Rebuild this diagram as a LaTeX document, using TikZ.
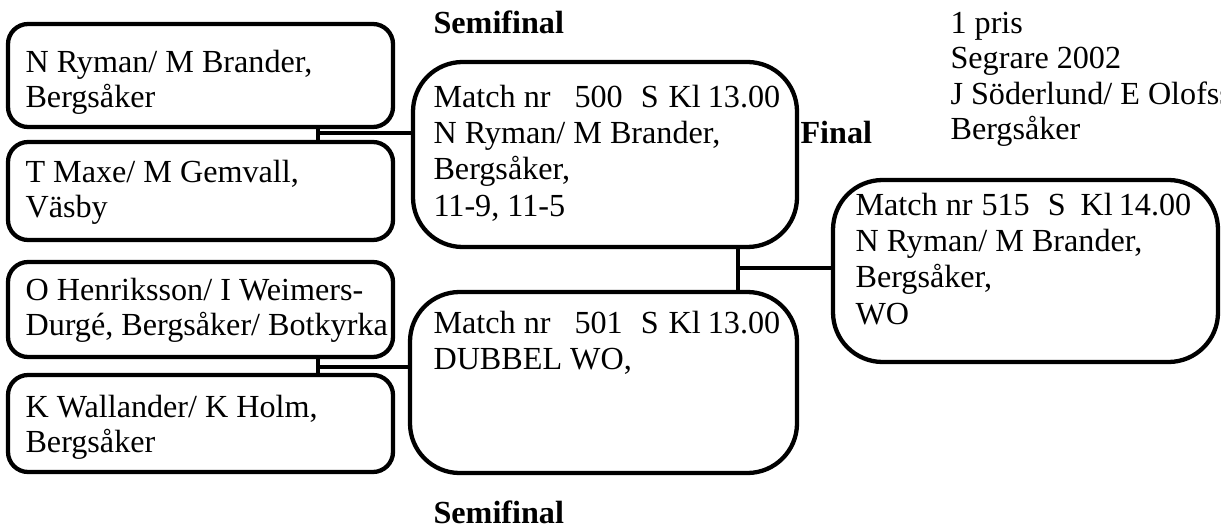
\documentclass[tikz,border=0pt]{standalone}
\usepackage{fontspec}
\setmainfont{Liberation Serif}
\usetikzlibrary{fit}
\newdimen\pxu \pxu=0.3731pt
\begin{document}
\begin{tikzpicture}[x=0.3731pt, y=-0.3731pt,
  box/.style={draw, line width=1.6pt, rounded corners=7.5pt, inner sep=0pt},
  mbox/.style={box, rounded corners=18.5pt},
  conn/.style={line width=1.6pt},
  txt/.style={anchor=north west, inner sep=0pt, align=left, font=\fontsize{12}{13.2}\selectfont},
  mtxt/.style={txt, font=\fontsize{12}{13.5}\selectfont},
  lbl/.style={txt, font=\fontsize{12}{13.2}\selectfont\bfseries}]
\useasboundingbox (0,0) rectangle (1221,531);

% player boxes
\node[box, fit={(8,24) (393,127)}] (p1) {};
\node[box, fit={(8,142) (393,240)}] (p2) {};
\node[box, fit={(8,262) (393,357)}] (p3) {};
\node[box, fit={(8,375) (393,472)}] (p4) {};
\node[txt] (tp1) at (25,47.2) {\strut N Ryman/ M Brander,\\Bergsåker};
\node[txt] (tp2) at (25,157.2) {\strut T Maxe/ M Gemvall,\\Väsby};
\node[txt] (tp3) at (25,275.2) {\strut O Henriksson/ I Weimers-\\Durgé, Bergsåker/ Botkyrka};
\node[txt] (tp4) at (25,392.2) {\strut K Wallander/ K Holm,\\Bergsåker};

% match boxes
\node[mbox, fit={(413,62) (797,247)}] (m500) {};
\node[mbox, fit={(410,292) (797,473)}] (m501) {};
\node[mbox, fit={(833,180) (1218,362)}] (m515) {};
\node[mtxt] (t500) at (433,81.7) {\strut Match nr\hspace{24\pxu}500\hspace{18\pxu}S\hspace{10\pxu}Kl\hspace{7\pxu}13.00\\N Ryman/ M Brander,\\Bergsåker,\\11-9, 11-5};
\node[mtxt] (t501) at (433,307.7) {\strut Match nr\hspace{24\pxu}501\hspace{18\pxu}S\hspace{10\pxu}Kl\hspace{7\pxu}13.00\\DUBBEL WO,};
\node[mtxt] (t515) at (855,189.7) {\strut Match nr\hspace{9\pxu}515\hspace{18\pxu}S\hspace{15\pxu}Kl\hspace{6\pxu}14.00\\N Ryman/ M Brander,\\Bergsåker,\\WO};

% labels
\node[lbl] (semi1) at (433,8.2) {\strut Semifinal};
\node[lbl] (fin) at (800,118.2) {\strut Final};
\node[lbl] (semi2) at (433,498.2) {\strut Semifinal};
\node[txt] (prize) at (950,8.2) {\strut 1 pris\\Segrare 2002\\J Söderlund/ E Olofsson\\Bergsåker};

% connectors
\coordinate (j1) at (318,133);
\coordinate (j2) at (318,367);
\coordinate (j3) at (738,268);
\draw[conn] (p1.south -| j1) -- (p2.north -| j1);
\draw[conn] (j1) -- (j1 -| m500.west);
\draw[conn] (p3.south -| j2) -- (p4.north -| j2);
\draw[conn] (j2) -- (j2 -| m501.west);
\draw[conn] (m500.south -| j3) -- (m501.north -| j3);
\draw[conn] (j3) -- (j3 -| m515.west);
\end{tikzpicture}
\end{document}
